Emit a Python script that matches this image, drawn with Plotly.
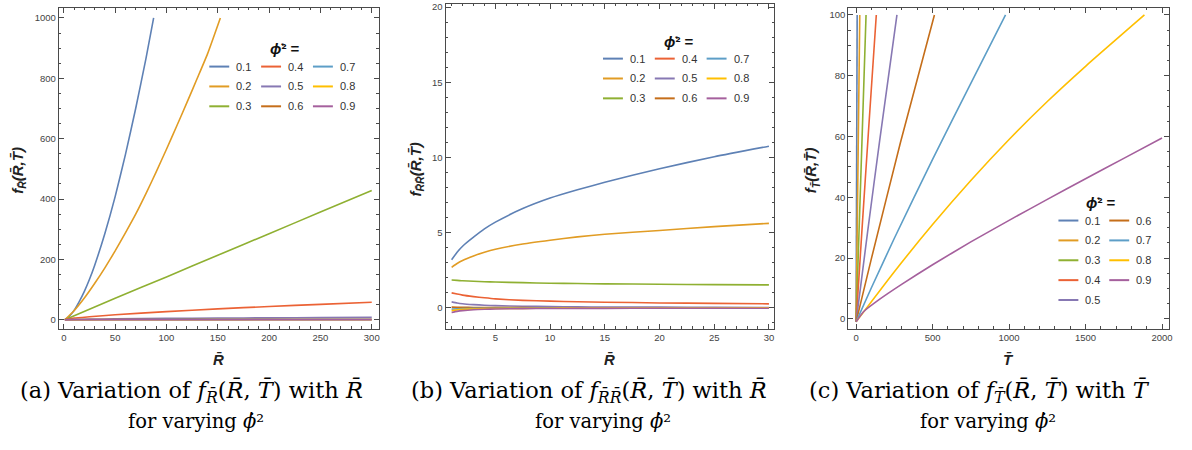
import plotly.graph_objects as go

W, H = 1192, 450

# ---------------- data ----------------
phi2_labels = ["0.1", "0.2", "0.3", "0.4", "0.5", "0.6", "0.7", "0.8", "0.9"]
colors = ["#5E81B5", "#E19C24", "#8FB032", "#EB6235", "#8778B3",
          "#C56E1A", "#5D9EC7", "#FFBF00", "#A5609D"]

# panel (a): f_R vs R
a_grid = [1, 10, 25, 50, 100, 150, 200, 250, 300]
a_R = [
    [1, 5, 10, 15, 20, 25, 30, 40, 50, 60, 70, 80, 87.5],
    [1, 10, 20, 30, 40, 50, 60, 70, 80, 90, 100, 110, 120, 130, 140, 152.5],
    [1, 50, 100, 150, 200, 250, 300],
    a_grid, a_grid, a_grid, a_grid, a_grid, a_grid,
]
a_f = [
    [0, 10, 31, 60, 94, 134, 180, 286, 408, 547, 700, 865, 1000],
    [0, 30, 72, 120, 172, 228, 288, 350, 418, 490, 565, 642, 720, 800, 881, 1000],
    [0, 71, 142, 214, 285, 357, 428],
    [0.5, 5.6, 10, 16.5, 27, 36, 44, 51, 58],
    [0.2, 1.2, 2.2, 3.2, 4.6, 5.6, 6.4, 7.2, 7.9],
    [0.1, 0.4, 0.6, 0.8, 1.1, 1.3, 1.5, 1.6, 1.8],
    [0.0, 0.1, 0.2, 0.25, 0.3, 0.35, 0.4, 0.4, 0.45],
    [0.0, 0.0, 0.02, 0.03, 0.05, 0.06, 0.07, 0.08, 0.08],
    [-0.3, -0.2, -0.15, -0.1, -0.08, -0.07, -0.06, -0.05, -0.05],
]

# panel (b): f_RR vs R
b_R = [1, 1.5, 2, 3, 4, 5, 7.5, 10, 12.5, 15, 20, 25, 30]
b_f = [
    [3.2, 3.7, 4.1, 4.7, 5.25, 5.7, 6.6, 7.3, 7.85, 8.35, 9.25, 10.05, 10.75],
    [2.7, 2.95, 3.15, 3.45, 3.7, 3.9, 4.25, 4.5, 4.72, 4.9, 5.15, 5.4, 5.62],
    [1.85, 1.83, 1.8, 1.77, 1.74, 1.72, 1.68, 1.64, 1.62, 1.6, 1.57, 1.55, 1.53],
    [1.0, 0.92, 0.85, 0.75, 0.67, 0.6, 0.5, 0.45, 0.41, 0.38, 0.33, 0.3, 0.27],
    [0.4, 0.33, 0.28, 0.22, 0.18, 0.15, 0.11, 0.09, 0.07, 0.06, 0.05, 0.04, 0.03],
    [0.05, 0.045, 0.04, 0.03, 0.025, 0.02, 0.02, 0.01, 0.01, 0.01, 0.01, 0.01, 0.01],
    [-0.08, -0.06, -0.05, -0.03, -0.025, -0.02, -0.01, -0.01, 0.0, 0.0, 0.0, 0.0, 0.0],
    [-0.18, -0.13, -0.1, -0.07, -0.05, -0.04, -0.03, -0.02, -0.01, -0.01, -0.01, -0.01, 0.0],
    [-0.3, -0.23, -0.18, -0.12, -0.09, -0.07, -0.05, -0.04, -0.035, -0.03, -0.02, -0.02, -0.02],
]

# panel (c): f_T vs T
c_T = [
    [0, 7],
    [0, 12, 24],
    [0, 33, 65],
    [0, 40, 80, 132],
    [0, 75, 155, 267],
    [0, 100, 290, 512],
    [0, 100, 250, 500, 750, 977],
    [0, 250, 500, 750, 1000, 1250, 1500, 1885],
    [0, 50, 150, 300, 500, 750, 1000, 1250, 1500, 1750, 2000],
]
c_f = [
    [-1, 100],
    [-1, 49, 100],
    [-1, 50, 100],
    [-1, 30.5, 61, 100],
    [-1, 28.5, 59, 100],
    [-1, 19.8, 58, 100],
    [-1, 10.2, 26.5, 52.5, 77.5, 100],
    [-1, 15.5, 31, 45.5, 59, 71.5, 83.1, 100],
    [-1, 2.4, 6.3, 11.4, 17.8, 25.3, 32.4, 39.3, 46.1, 52.8, 59.5],
]

a_xticks = [0, 50, 100, 150, 200, 250, 300]
a_yticks = [0, 200, 400, 600, 800, 1000]
b_xticks = [5, 10, 15, 20, 25, 30]
b_yticks = [0, 5, 10, 15, 20]
c_xticks = [0, 500, 1000, 1500, 2000]
c_yticks = [0, 20, 40, 60, 80, 100]

RB = "R\u0304"
TB = "T\u0304"
PHI = "\u03d5\u0307"

# ---------------- figure ----------------
fig = go.Figure()

def px_x(p):
    return p / W

def px_y(p):
    return 1 - p / H

panels = [
    ("x", "y", a_R, a_f),
    ("x2", "y2", None, b_f),
    ("x3", "y3", c_T, c_f),
]
for k, (xa, ya, xs, ys) in enumerate(panels):
    for i in range(9):
        xv = b_R if xs is None else xs[i]
        fig.add_trace(go.Scatter(
            x=xv, y=ys[i], mode="lines", name=phi2_labels[i],
            line=dict(color=colors[i], width=1.6, shape="spline", smoothing=0.5),
            xaxis=xa, yaxis=ya, showlegend=False, hoverinfo="skip"))

frame = "#4a4a4a"
tickfont = dict(family="Liberation Sans", size=9.5, color="#444")

def ax(domain, rng, tickvals, minor_dtick, anchor):
    return dict(domain=domain, range=rng, tickmode="array", tickvals=tickvals,
                showline=True, linecolor=frame, linewidth=1, mirror="allticks",
                ticks="inside", ticklen=5, tickcolor=frame, tickwidth=1,
                showgrid=False, zeroline=False, tickfont=tickfont, anchor=anchor,
                ticklabeloverflow="allow",
                minor=dict(ticks="inside", ticklen=2.5, tickcolor=frame,
                           dtick=minor_dtick, showgrid=False))

ydom = [px_y(328), px_y(5)]
fig.update_layout(
    width=W, height=H, margin=dict(l=0, r=0, t=0, b=0),
    paper_bgcolor="white", plot_bgcolor="white", showlegend=False,
    xaxis=ax([px_x(59), px_x(380)], [-4.9, 306.8], a_xticks, 10, "y"),
    yaxis=ax(ydom, [-30, 1033], a_yticks, 50, "x"),
    xaxis2=ax([px_x(447), px_x(777)], [0.44, 30.5], b_xticks, 1, "y2"),
    yaxis2=ax([px_y(328), px_y(1)], [-1.39, 20.2], b_yticks, 1, "x2"),
    xaxis3=ax([px_x(851), px_x(1173)], [-52, 2046], c_xticks, 100, "y3"),
    yaxis3=ax(ydom, [-3.3, 102.3], c_yticks, 5, "x3"),
)

ann = []
shapes = []
titlefont = dict(family="Liberation Sans", size=15, color="#222")

# y-axis titles
ytitles = [
    (19, f"<b><i>f</i></b><sub><b><i>{RB}</i></b></sub><b><i>({RB},{TB})</i></b>"),
    (418, f"<b><i>f</i></b><sub><b><i>{RB}{RB}</i></b></sub><b><i>({RB},{TB})</i></b>"),
    (815, f"<b><i>f</i></b><sub><b><i>{TB}</i></b></sub><b><i>({RB},{TB})</i></b>"),
]
for xp, t in ytitles:
    ann.append(dict(x=px_x(xp), y=px_y(168), xref="paper", yref="paper", text=t,
                    textangle=-90, showarrow=False, font=titlefont,
                    xanchor="center", yanchor="middle"))

# x-axis titles
for xp, t in [(219.5, RB), (612, RB), (1012, TB)]:
    ann.append(dict(x=px_x(xp), y=px_y(359), xref="paper", yref="paper",
                    text=f"<b><i>{t}</i></b>", showarrow=False, font=titlefont,
                    xanchor="center", yanchor="middle"))

# captions
capfont1 = dict(family="DejaVu Serif", size=22.5, color="black")
capfont2 = dict(family="DejaVu Serif", size=19.5, color="black")
caps = [
    (192, 197, f"(a) Variation of <i>f</i><sub><i>{RB}</i></sub>(<i>{RB}</i>, <i>{TB}</i>) with <i>{RB}</i>"),
    (591, 605, f"(b) Variation of <i>f</i><sub><i>{RB}{RB}</i></sub>(<i>{RB}</i>, <i>{TB}</i>) with <i>{RB}</i>"),
    (983, 991, f"(c) Variation of <i>f</i><sub><i>{TB}</i></sub>(<i>{RB}</i>, <i>{TB}</i>) with <i>{TB}</i>"),
]
for x1, x2, t in caps:
    ann.append(dict(x=px_x(x1), y=px_y(391.5), xref="paper", yref="paper", text=t,
                    showarrow=False, font=capfont1, xanchor="center", yanchor="middle"))
    ann.append(dict(x=px_x(x2), y=px_y(421), xref="paper", yref="paper",
                    text=f"for varying <i>{PHI}</i>\u00b2",
                    showarrow=False, font=capfont2, xanchor="center", yanchor="middle"))

# legends (title, rows, columns laid out column-major)
legfont = dict(family="Liberation Sans", size=11, color="#333")
legends = [
    dict(tx=269, ty=46, x0=[210, 262, 314], y0=64, nrows=3),
    dict(tx=664, ty=39, x0=[605, 657, 709], y0=56, nrows=3),
    dict(tx=1088, ty=201, x0=[1062, 1113], y0=219, nrows=5),
]
for L in legends:
    ann.append(dict(x=px_x(L["tx"]), y=px_y(L["ty"]), xref="paper", yref="paper",
                    text=f"<b><i>{PHI}</i>\u00b2 =</b>", showarrow=False,
                    font=dict(family="Liberation Sans", size=15, color="#111"),
                    xanchor="left", yanchor="middle"))
    for i in range(9):
        col, row = divmod(i, L["nrows"])
        xs0 = L["x0"][col]
        yy = L["y0"] + 20 * row
        shapes.append(dict(type="line", xref="paper", yref="paper",
                           x0=px_x(xs0), x1=px_x(xs0 + 20), y0=px_y(yy), y1=px_y(yy),
                           line=dict(color=colors[i], width=2)))
        ann.append(dict(x=px_x(xs0 + 25), y=px_y(yy), xref="paper", yref="paper",
                        text=phi2_labels[i], showarrow=False, font=legfont,
                        xanchor="left", yanchor="middle"))

fig.update_layout(annotations=ann, shapes=shapes)
fig.write_html("out.html", config={"displayModeBar": False},
               post_script="document.body.style.margin='0';")
